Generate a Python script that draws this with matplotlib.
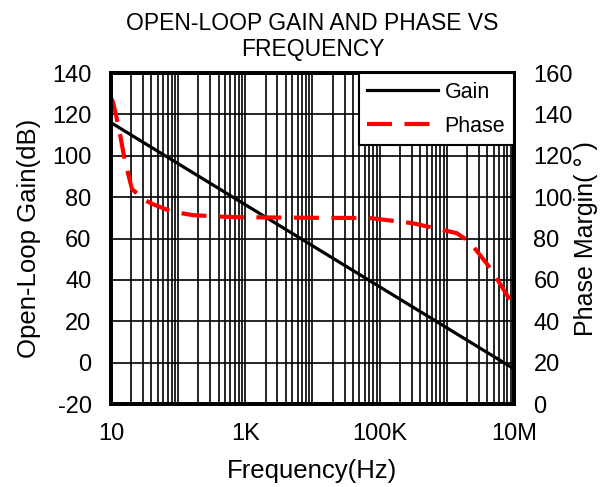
import numpy as np
import matplotlib.pyplot as plt
from matplotlib.ticker import LogLocator, NullFormatter, FixedLocator

plt.rcParams['font.family'] = ['Liberation Sans', 'DejaVu Sans']
plt.rcParams['axes.unicode_minus'] = False

# gain line (dB) vs frequency (Hz)
gain_f = [10, 1e7]
gain_db = [116, -3]

# phase margin (deg) vs frequency (Hz)
phase_f = [10, 10.7, 13, 16, 20.5, 30, 42, 80, 166, 400, 832, 1e4, 7.1e4,
           3.1e5, 1.4e6, 2.2e6, 4.1e6, 5.5e6, 9.3e6, 1e7]
phase_deg = [148, 146, 134, 118, 104, 99, 96.6, 93, 91.3, 90.6, 90.3, 90, 89.9,
             87.4, 82.6, 78.3, 67.1, 60.9, 48.8, 46]

xticks = [10, 1e2, 1e3, 1e4, 1e5, 1e6, 1e7]
xlabels = ['10', '', '1K', '', '100K', '', '10M']
yticks_left = np.arange(-20, 141, 20)
yticks_right = np.arange(0, 161, 20)

fig = plt.figure(figsize=(6.01, 4.87), dpi=100)
ax = fig.add_axes([0.1847, 0.1704, 0.6705, 0.6797])
ax2 = ax.twinx()

l1, = ax.plot(gain_f, gain_db, color='black', lw=2.3, label='Gain', zorder=3)
l2, = ax2.plot(phase_f, phase_deg, color='red', lw=3, dashes=(6, 3), label='Phase')

ax.set_xscale('log')
ax.set_xlim(10, 1e7)
ax.set_ylim(-20, 140)
ax2.set_ylim(0, 160)
ax.xaxis.set_major_locator(FixedLocator(xticks))
ax.set_xticklabels(xlabels)
ax.xaxis.set_minor_locator(LogLocator(base=10, subs=np.arange(2, 10), numticks=20))
ax.xaxis.set_minor_formatter(NullFormatter())
ax.set_yticks(yticks_left)
ax2.set_yticks(yticks_right)

ax.grid(True, which='both', axis='x', color='black', lw=1.2)
ax.grid(True, which='major', axis='y', color='black', lw=1.2)

for a in (ax, ax2):
    a.tick_params(which='both', length=0, labelsize=17, pad=14)
    for s in a.spines.values():
        s.set_linewidth(2.8)

ax.set_xlabel('Frequency(Hz)', fontsize=18.5, labelpad=10)
ax.set_ylabel('Open-Loop Gain(dB)', fontsize=18.5, labelpad=8)
ax2.set_ylabel('Phase Margin( ° )', fontsize=18, labelpad=1)
ax.set_title('OPEN-LOOP GAIN AND PHASE VS\nFREQUENCY', fontsize=16.5, pad=12,
             linespacing=1.2)

leg = ax2.legend(handles=[l1, l2], loc='upper right', fontsize=15.5,
                 fancybox=False, framealpha=1, edgecolor='black',
                 borderaxespad=0.0, handlelength=3.3, handletextpad=0.3,
                 borderpad=0.4, labelspacing=0.6)
leg.get_frame().set_linewidth(1.5)

fig.savefig('out.png', dpi=100)
